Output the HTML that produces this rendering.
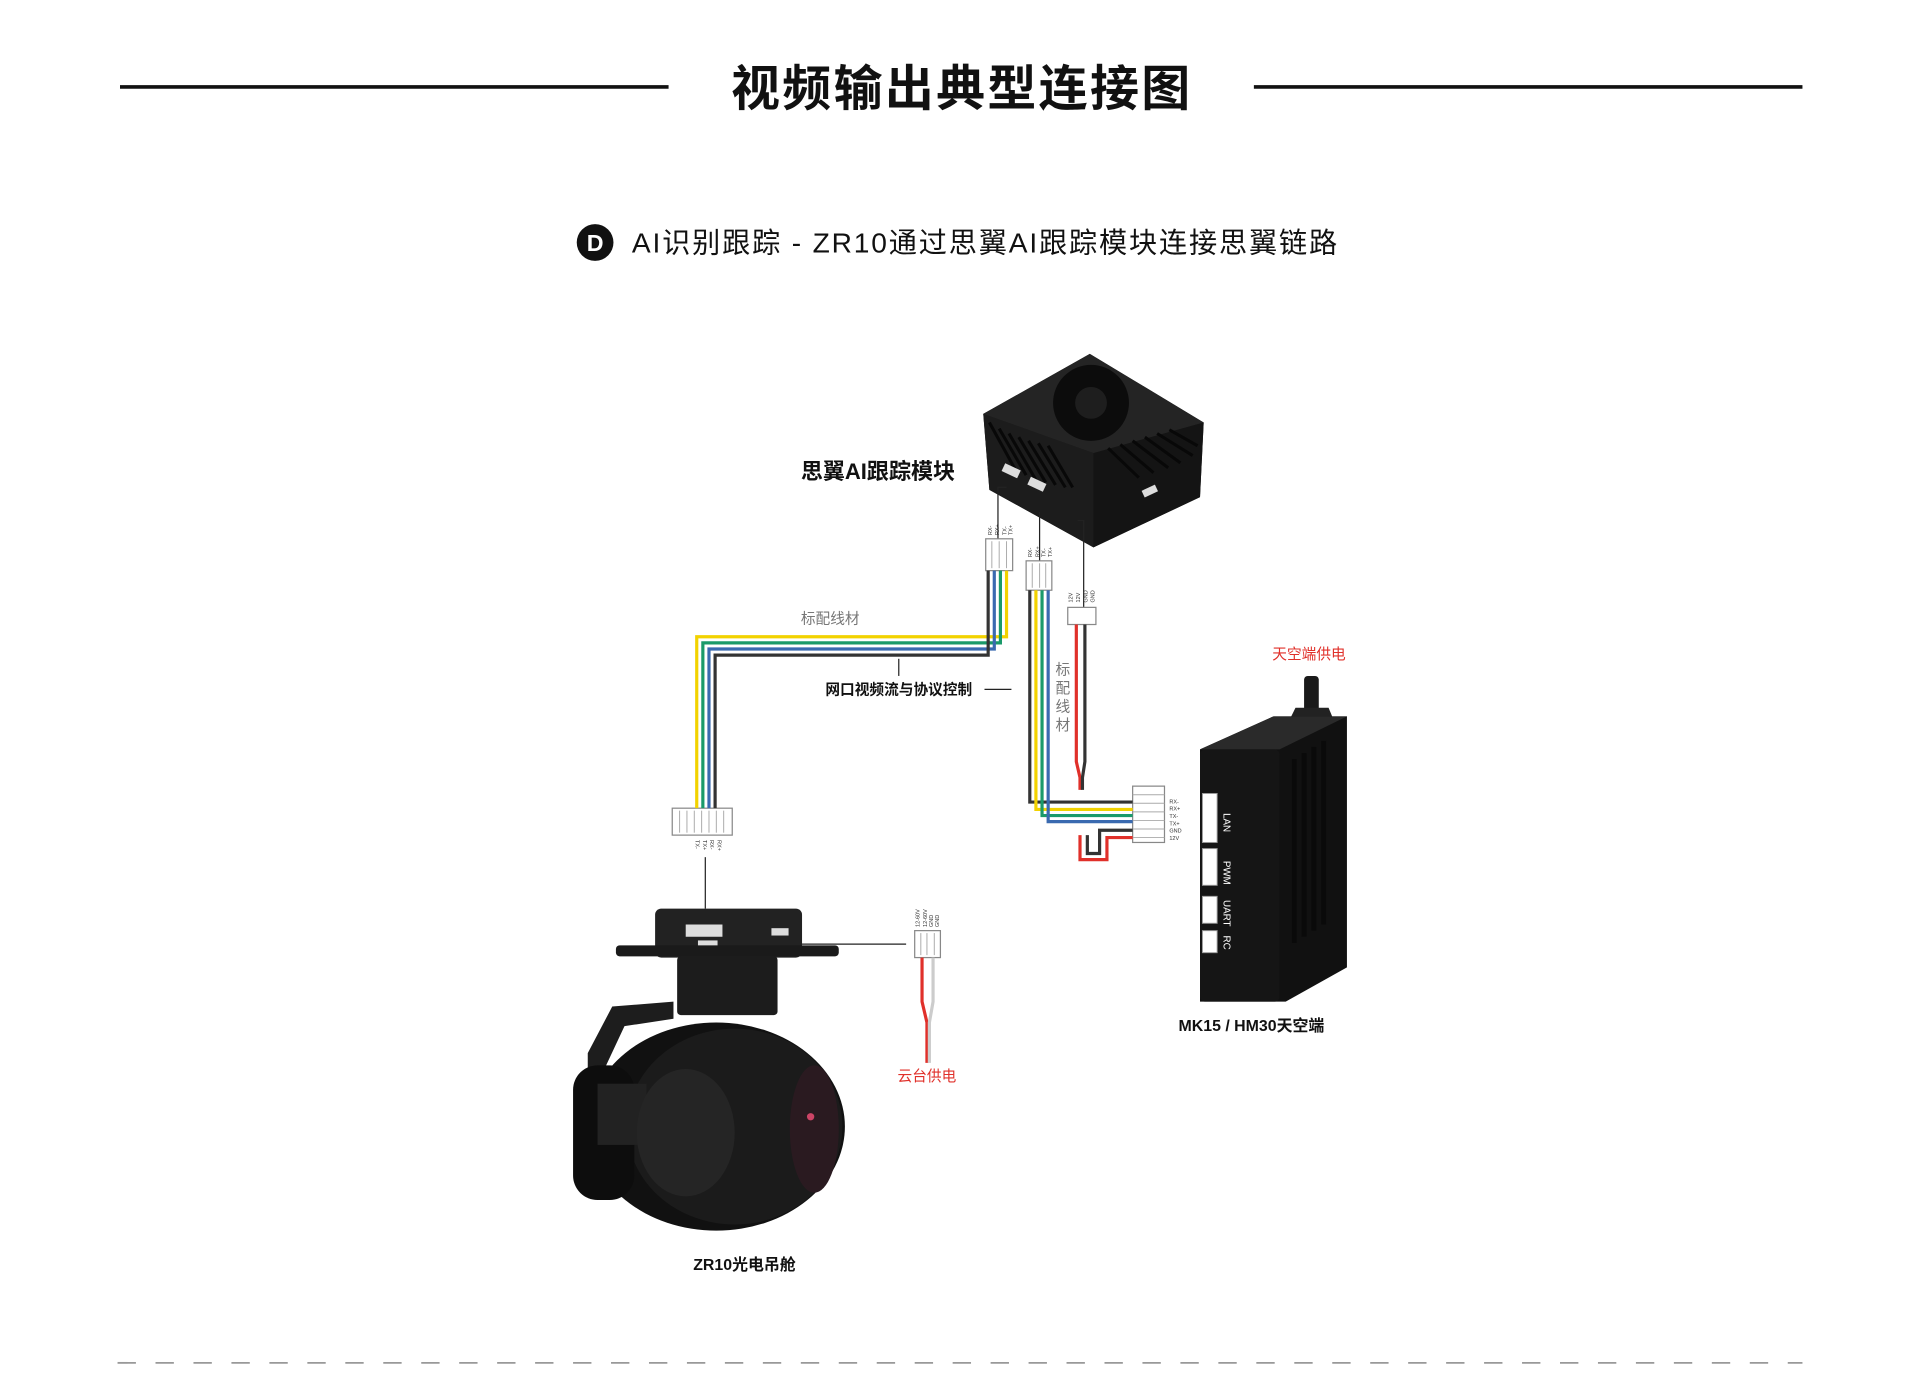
<!DOCTYPE html>
<html><head><meta charset="utf-8">
<style>
html,body{margin:0;padding:0;background:#fff;}
svg{display:block;}
text{font-family:"Liberation Sans","Noto Sans CJK SC",sans-serif;}
</style></head>
<body>
<svg width="1920" height="1394" viewBox="0 0 1568 1138.4" xmlns="http://www.w3.org/2000/svg">
<rect width="1568" height="1139" fill="#fff"/>
<!-- title -->
<line x1="98" y1="71" x2="546" y2="71" stroke="#111" stroke-width="3"/>
<line x1="1024" y1="71" x2="1472" y2="71" stroke="#111" stroke-width="3"/>
<text x="597" y="86" font-size="40" font-weight="bold" textLength="375" lengthAdjust="spacing" fill="#111">视频输出典型连接图</text>
<circle cx="486" cy="198" r="15" fill="#111"/>
<text x="486" y="205" font-size="19" font-weight="bold" text-anchor="middle" fill="#fff">D</text>
<text x="516" y="206" font-size="23" textLength="576" lengthAdjust="spacing" fill="#111">AI识别跟踪 - ZR10通过思翼AI跟踪模块连接思翼链路</text>

<!-- AI module -->
<polygon points="803,338 890,289 983,345 980,406 893,447 808,400" fill="#1a1a1a"/>
<polygon points="803,338 890,289 983,345 893,370" fill="#242424"/>
<polygon points="803,338 893,370 893,447 808,400" fill="#1c1c1c"/>
<polygon points="893,370 983,345 980,406 893,447" fill="#141414"/>
<circle cx="891" cy="329" r="31" fill="#0c0c0c"/>
<circle cx="891" cy="329" r="13" fill="#1e1e1e"/>
<g stroke="#080808" stroke-width="2.5">
<line x1="808" y1="345" x2="830" y2="385"/><line x1="816" y1="350" x2="838" y2="388"/><line x1="824" y1="354" x2="846" y2="392"/><line x1="832" y1="357" x2="854" y2="394"/><line x1="840" y1="360" x2="862" y2="396"/><line x1="848" y1="362" x2="870" y2="398"/><line x1="856" y1="364" x2="876" y2="398"/>
<line x1="905" y1="366" x2="930" y2="390"/><line x1="915" y1="363" x2="942" y2="386"/><line x1="925" y1="360" x2="954" y2="382"/><line x1="935" y1="357" x2="964" y2="378"/><line x1="945" y1="354" x2="974" y2="372"/><line x1="955" y1="351" x2="978" y2="364"/>
</g>
<rect x="819" y="381" width="14" height="7" fill="#ddd" transform="rotate(25 826 384)"/>
<rect x="840" y="392" width="14" height="7" fill="#ddd" transform="rotate(25 847 395)"/>
<rect x="933" y="398" width="12" height="6" fill="#ddd" transform="rotate(-25 939 401)"/>
<text x="654" y="391" font-size="18" font-weight="bold" fill="#111">思翼AI跟踪模块</text>

<!-- leads from module ports -->
<g stroke="#222" stroke-width="1" fill="none">
<polyline points="822,398 815,398 815,440"/>
<line x1="849" y1="418" x2="849" y2="458"/>
<polyline points="880,425 885,425 885,496"/>
<line x1="576" y1="700" x2="576" y2="742"/>
<line x1="595" y1="771" x2="740" y2="771"/>
<line x1="734" y1="538" x2="734" y2="552"/>
<line x1="804" y1="563" x2="826" y2="563"/>
</g>

<!-- connectors -->
<g fill="#fff" stroke="#888" stroke-width="1">
<rect x="805" y="440" width="22" height="26"/>
<rect x="838" y="458" width="21" height="24"/>
<rect x="872" y="496" width="23" height="14"/>
<rect x="549" y="660" width="49" height="22"/>
<rect x="925" y="642" width="26" height="46"/>
<rect x="747" y="760" width="21" height="22"/>
</g>
<g stroke="#aaa" stroke-width="0.8">
<line x1="810" y1="442" x2="810" y2="464"/><line x1="816" y1="442" x2="816" y2="464"/><line x1="822" y1="442" x2="822" y2="464"/>
<line x1="843" y1="460" x2="843" y2="480"/><line x1="849" y1="460" x2="849" y2="480"/><line x1="854" y1="460" x2="854" y2="480"/>
<line x1="555" y1="662" x2="555" y2="680"/><line x1="561" y1="662" x2="561" y2="680"/><line x1="567" y1="662" x2="567" y2="680"/><line x1="573" y1="662" x2="573" y2="680"/><line x1="579" y1="662" x2="579" y2="680"/><line x1="585" y1="662" x2="585" y2="680"/><line x1="591" y1="662" x2="591" y2="680"/>
<line x1="925" y1="649" x2="951" y2="649"/><line x1="925" y1="656" x2="951" y2="656"/><line x1="925" y1="663" x2="951" y2="663"/><line x1="925" y1="670" x2="951" y2="670"/><line x1="925" y1="677" x2="951" y2="677"/><line x1="925" y1="684" x2="951" y2="684"/>
<line x1="752" y1="762" x2="752" y2="780"/><line x1="757" y1="762" x2="757" y2="780"/><line x1="763" y1="762" x2="763" y2="780"/>
</g>
<g font-size="4.5" fill="#333">
<text x="810" y="437" transform="rotate(-90 810 437)">RX-</text>
<text x="816" y="437" transform="rotate(-90 816 437)">RX+</text>
<text x="822" y="437" transform="rotate(-90 822 437)">TX-</text>
<text x="827" y="437" transform="rotate(-90 827 437)">TX+</text>
<text x="843" y="455" transform="rotate(-90 843 455)">RX-</text>
<text x="849" y="455" transform="rotate(-90 849 455)">RX+</text>
<text x="854" y="455" transform="rotate(-90 854 455)">TX-</text>
<text x="859" y="455" transform="rotate(-90 859 455)">TX+</text>
<text x="876" y="492" transform="rotate(-90 876 492)">12V</text>
<text x="882" y="492" transform="rotate(-90 882 492)">12V</text>
<text x="888" y="492" transform="rotate(-90 888 492)">GND</text>
<text x="894" y="492" transform="rotate(-90 894 492)">GND</text>
<text x="955" y="656">RX-</text><text x="955" y="662">RX+</text><text x="955" y="668">TX-</text><text x="955" y="674">TX+</text><text x="955" y="680">GND</text><text x="955" y="686">12V</text>
<text x="568" y="686" transform="rotate(90 568 686)">TX-</text>
<text x="574" y="686" transform="rotate(90 574 686)">TX+</text>
<text x="580" y="686" transform="rotate(90 580 686)">RX-</text>
<text x="586" y="686" transform="rotate(90 586 686)">RX+</text>
<text x="751" y="757" transform="rotate(-90 751 757)">12-60V</text>
<text x="757" y="757" transform="rotate(-90 757 757)">12-60V</text>
<text x="762" y="757" transform="rotate(-90 762 757)">GND</text>
<text x="767" y="757" transform="rotate(-90 767 757)">GND</text>
</g>

<!-- wires LAN1 -->
<g fill="none" stroke-width="2.6">
<polyline points="822,466 822,520 569,520 569,660" stroke="#f2d200"/>
<polyline points="817,466 817,525 574,525 574,660" stroke="#1a9a6a"/>
<polyline points="812,466 812,530 579,530 579,660" stroke="#3a6ab0"/>
<polyline points="807,466 807,535 584,535 584,660" stroke="#333"/>
<!-- LAN2 -->
<polyline points="841,482 841,655 925,655" stroke="#333"/>
<polyline points="846,482 846,661 925,661" stroke="#f2d200"/>
<polyline points="851,482 851,666 925,666" stroke="#1a9a6a"/>
<polyline points="856,482 856,671 925,671" stroke="#3a6ab0"/>
<!-- power -->
<polyline points="879,510 879,622 882,635 882,645" stroke="#e0302a"/>
<polyline points="886,510 886,622 884,635 884,645" stroke="#333"/>
<polyline points="925,678 898,678 898,697 888,697 888,682" stroke="#333"/>
<polyline points="925,684 904,684 904,702 882,702 882,682" stroke="#e0302a"/>
<!-- gimbal power -->
<polyline points="753,782 753,818 757,835 757,868" stroke="#e0302a"/>
<polyline points="762,782 762,818 759,835 759,868" stroke="#ccc"/>
</g>

<text x="678" y="509" font-size="12" text-anchor="middle" fill="#777">标配线材</text>
<text x="734" y="567" font-size="12" font-weight="bold" text-anchor="middle" fill="#111">网口视频流与协议控制</text>
<g font-size="12" fill="#777" text-anchor="middle">
<text x="868" y="551">标</text><text x="868" y="566">配</text><text x="868" y="581">线</text><text x="868" y="596">材</text>
</g>
<text x="1069" y="538" font-size="12" text-anchor="middle" fill="#e0302a">天空端供电</text>
<text x="757" y="883" font-size="12" text-anchor="middle" fill="#e0302a">云台供电</text>

<!-- MK15 -->
<rect x="1065" y="552" width="12" height="30" rx="3" fill="#1a1a1a"/>
<polygon points="1058,578 1085,578 1090,590 1052,590" fill="#222"/>
<polygon points="980,612 1040,585 1100,585 1100,790 1050,818 980,818" fill="#111"/>
<polygon points="980,612 1040,585 1100,585 1045,612" fill="#2a2a2a"/>
<rect x="980" y="612" width="65" height="206" rx="4" fill="#151515"/>
<g fill="#0a0a0a"><rect x="1055" y="620" width="4" height="150"/><rect x="1063" y="615" width="4" height="150"/><rect x="1071" y="610" width="4" height="150"/><rect x="1079" y="605" width="4" height="150"/></g>
<g fill="#fff" stroke="#999" stroke-width="0.8">
<rect x="982" y="648" width="12" height="40"/><rect x="982" y="693" width="12" height="30"/><rect x="982" y="732" width="12" height="22"/><rect x="982" y="760" width="12" height="18"/>
</g>
<g font-size="8" fill="#fff">
<text x="999" y="664" transform="rotate(90 999 664)">LAN</text>
<text x="999" y="703" transform="rotate(90 999 703)">PWM</text>
<text x="999" y="735" transform="rotate(90 999 735)">UART</text>
<text x="999" y="764" transform="rotate(90 999 764)">RC</text>
</g>
<text x="1022" y="842" font-size="13" font-weight="bold" text-anchor="middle" fill="#111">MK15 / HM30天空端</text>

<!-- gimbal -->
<rect x="535" y="742" width="120" height="40" rx="5" fill="#222"/>
<rect x="560" y="755" width="30" height="10" fill="#ddd"/>
<rect x="570" y="768" width="16" height="7" fill="#ddd"/>
<rect x="630" y="758" width="14" height="6" fill="#ddd"/>
<rect x="503" y="772" width="182" height="9" rx="3" fill="#1a1a1a"/>
<rect x="553" y="781" width="82" height="48" rx="3" fill="#1c1c1c"/>
<polygon points="480,860 500,822 550,818 550,832 510,838 495,870 495,905 480,905" fill="#1d1d1d"/>
<ellipse cx="585" cy="920" rx="105" ry="85" fill="#111"/>
<ellipse cx="600" cy="920" rx="88" ry="80" fill="#1b1b1b"/>
<rect x="468" y="870" width="50" height="110" rx="20" fill="#0d0d0d"/>
<rect x="488" y="885" width="40" height="50" fill="#222"/>
<ellipse cx="560" cy="925" rx="40" ry="52" fill="#252525"/>
<ellipse cx="665" cy="922" rx="20" ry="52" fill="#2a1a20"/>
<circle cx="662" cy="912" r="3" fill="#c46"/>
<text x="608" y="1037" font-size="13" font-weight="bold" text-anchor="middle" fill="#111">ZR10光电吊舱</text>

<!-- bottom dashed -->
<line x1="96" y1="1113" x2="1472" y2="1113" stroke="#999" stroke-width="1.5" stroke-dasharray="15,16"/>
</svg>
</body></html>
